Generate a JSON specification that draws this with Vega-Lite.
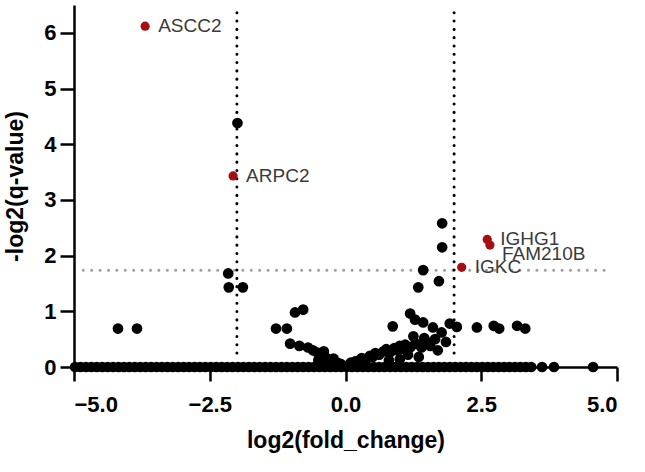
{
  "$schema": "https://vega.github.io/schema/vega-lite/v6.json",
  "width": 543,
  "height": 362,
  "autosize": "none",
  "padding": {"left": 74, "top": 5, "right": 28, "bottom": 105},
  "background": "white",
  "config": {
    "view": {"stroke": null},
    "font": "Liberation Sans",
    "axis": {
      "grid": false,
      "domainColor": "black",
      "domainWidth": 2.5,
      "tickColor": "black",
      "tickWidth": 2.5,
      "tickSize": 14,
      "labelColor": "black",
      "labelFont": "Liberation Sans",
      "labelFontWeight": "bold",
      "labelFontSize": 22,
      "titleFont": "Liberation Sans",
      "titleFontWeight": "bold",
      "titleFontSize": 23,
      "titleColor": "black"
    }
  },
  "datasets": {
    "pts": [
      {"x": -3.69, "y": 6.12, "grp": "sig", "label": "ASCC2"},
      {"x": -2.07, "y": 3.43, "grp": "sig", "label": "ARPC2"},
      {"x": 2.61, "y": 2.29, "grp": "sig", "label": "IGHG1"},
      {"x": 2.66, "y": 2.19, "grp": "sig", "label": "FAM210B"},
      {"x": 2.14, "y": 1.79, "grp": "sig", "label": "IGKC"},
      {"x": -1.99, "y": 4.38, "grp": "ns"},
      {"x": -2.16, "y": 1.68, "grp": "ns"},
      {"x": -2.15, "y": 1.43, "grp": "ns"},
      {"x": -1.89, "y": 1.43, "grp": "ns"},
      {"x": -4.19, "y": 0.69, "grp": "ns"},
      {"x": -3.84, "y": 0.69, "grp": "ns"},
      {"x": 1.78, "y": 2.58, "grp": "ns"},
      {"x": 1.78, "y": 2.15, "grp": "ns"},
      {"x": 1.43, "y": 1.74, "grp": "ns"},
      {"x": 1.34, "y": 1.43, "grp": "ns"},
      {"x": 1.72, "y": 1.54, "grp": "ns"},
      {"x": 2.05, "y": 0.72, "grp": "ns"},
      {"x": 2.42, "y": 0.71, "grp": "ns"},
      {"x": 2.73, "y": 0.74, "grp": "ns"},
      {"x": 2.83, "y": 0.69, "grp": "ns"},
      {"x": 3.16, "y": 0.74, "grp": "ns"},
      {"x": 3.31, "y": 0.69, "grp": "ns"},
      {"x": -1.28, "y": 0.69, "grp": "ns"},
      {"x": -1.08, "y": 0.69, "grp": "ns"},
      {"x": -0.93, "y": 0.98, "grp": "ns"},
      {"x": -0.78, "y": 1.03, "grp": "ns"},
      {"x": -1.02, "y": 0.42, "grp": "ns"},
      {"x": -0.69, "y": 0.35, "grp": "ns"},
      {"x": -0.85, "y": 0.38, "grp": "ns"},
      {"x": -0.6, "y": 0.3, "grp": "ns"},
      {"x": -0.52, "y": 0.26, "grp": "ns"},
      {"x": -0.45, "y": 0.2, "grp": "ns"},
      {"x": -0.4, "y": 0.28, "grp": "ns"},
      {"x": -0.35, "y": 0.16, "grp": "ns"},
      {"x": -0.28, "y": 0.12, "grp": "ns"},
      {"x": -0.22, "y": 0.15, "grp": "ns"},
      {"x": -0.15, "y": 0.08, "grp": "ns"},
      {"x": -0.08, "y": 0.05, "grp": "ns"},
      {"x": -0.5, "y": 0.12, "grp": "ns"},
      {"x": 0.05, "y": 0.03, "grp": "ns"},
      {"x": 0.1, "y": 0.08, "grp": "ns"},
      {"x": 0.18, "y": 0.1, "grp": "ns"},
      {"x": 0.25, "y": 0.12, "grp": "ns"},
      {"x": 0.3, "y": 0.16, "grp": "ns"},
      {"x": 0.38, "y": 0.14, "grp": "ns"},
      {"x": 0.45, "y": 0.2, "grp": "ns"},
      {"x": 0.5, "y": 0.18, "grp": "ns"},
      {"x": 0.55, "y": 0.25, "grp": "ns"},
      {"x": 0.62, "y": 0.22, "grp": "ns"},
      {"x": 0.7, "y": 0.28, "grp": "ns"},
      {"x": 0.75, "y": 0.32, "grp": "ns"},
      {"x": 0.82, "y": 0.26, "grp": "ns"},
      {"x": 0.9, "y": 0.34, "grp": "ns"},
      {"x": 0.95, "y": 0.3, "grp": "ns"},
      {"x": 1.0, "y": 0.38, "grp": "ns"},
      {"x": 1.05, "y": 0.33, "grp": "ns"},
      {"x": 1.1, "y": 0.4, "grp": "ns"},
      {"x": 1.2, "y": 0.36, "grp": "ns"},
      {"x": 1.3, "y": 0.42, "grp": "ns"},
      {"x": 1.4, "y": 0.35, "grp": "ns"},
      {"x": 1.0, "y": 0.14, "grp": "ns"},
      {"x": 1.15, "y": 0.22, "grp": "ns"},
      {"x": 1.35, "y": 0.18, "grp": "ns"},
      {"x": 0.8, "y": 0.12, "grp": "ns"},
      {"x": 0.87, "y": 0.73, "grp": "ns"},
      {"x": 1.19, "y": 0.96, "grp": "ns"},
      {"x": 1.28, "y": 0.85, "grp": "ns"},
      {"x": 1.43, "y": 0.8, "grp": "ns"},
      {"x": 1.61, "y": 0.71, "grp": "ns"},
      {"x": 1.77, "y": 0.62, "grp": "ns"},
      {"x": 1.56, "y": 0.38, "grp": "ns"},
      {"x": 1.52, "y": 0.44, "grp": "ns"},
      {"x": 1.25, "y": 0.55, "grp": "ns"},
      {"x": 1.45, "y": 0.52, "grp": "ns"},
      {"x": 1.65, "y": 0.5, "grp": "ns"},
      {"x": 1.85, "y": 0.45, "grp": "ns"},
      {"x": 1.92, "y": 0.78, "grp": "ns"},
      {"x": 1.7, "y": 0.3, "grp": "ns"},
      {"x": -4.98, "y": 0, "grp": "ns"},
      {"x": -4.88, "y": 0, "grp": "ns"},
      {"x": -4.78, "y": 0, "grp": "ns"},
      {"x": -4.68, "y": 0, "grp": "ns"},
      {"x": -4.58, "y": 0, "grp": "ns"},
      {"x": -4.48, "y": 0, "grp": "ns"},
      {"x": -4.38, "y": 0, "grp": "ns"},
      {"x": -4.28, "y": 0, "grp": "ns"},
      {"x": -4.18, "y": 0, "grp": "ns"},
      {"x": -4.08, "y": 0, "grp": "ns"},
      {"x": -3.98, "y": 0, "grp": "ns"},
      {"x": -3.88, "y": 0, "grp": "ns"},
      {"x": -3.78, "y": 0, "grp": "ns"},
      {"x": -3.68, "y": 0, "grp": "ns"},
      {"x": -3.58, "y": 0, "grp": "ns"},
      {"x": -3.48, "y": 0, "grp": "ns"},
      {"x": -3.38, "y": 0, "grp": "ns"},
      {"x": -3.28, "y": 0, "grp": "ns"},
      {"x": -3.18, "y": 0, "grp": "ns"},
      {"x": -3.08, "y": 0, "grp": "ns"},
      {"x": -2.98, "y": 0, "grp": "ns"},
      {"x": -2.88, "y": 0, "grp": "ns"},
      {"x": -2.78, "y": 0, "grp": "ns"},
      {"x": -2.68, "y": 0, "grp": "ns"},
      {"x": -2.58, "y": 0, "grp": "ns"},
      {"x": -2.48, "y": 0, "grp": "ns"},
      {"x": -2.38, "y": 0, "grp": "ns"},
      {"x": -2.28, "y": 0, "grp": "ns"},
      {"x": -2.18, "y": 0, "grp": "ns"},
      {"x": -2.08, "y": 0, "grp": "ns"},
      {"x": -1.98, "y": 0, "grp": "ns"},
      {"x": -1.88, "y": 0, "grp": "ns"},
      {"x": -1.78, "y": 0, "grp": "ns"},
      {"x": -1.68, "y": 0, "grp": "ns"},
      {"x": -1.58, "y": 0, "grp": "ns"},
      {"x": -1.48, "y": 0, "grp": "ns"},
      {"x": -1.38, "y": 0, "grp": "ns"},
      {"x": -1.28, "y": 0, "grp": "ns"},
      {"x": -1.18, "y": 0, "grp": "ns"},
      {"x": -1.08, "y": 0, "grp": "ns"},
      {"x": -0.98, "y": 0, "grp": "ns"},
      {"x": -0.88, "y": 0, "grp": "ns"},
      {"x": -0.78, "y": 0, "grp": "ns"},
      {"x": -0.68, "y": 0, "grp": "ns"},
      {"x": -0.58, "y": 0, "grp": "ns"},
      {"x": -0.48, "y": 0, "grp": "ns"},
      {"x": -0.38, "y": 0, "grp": "ns"},
      {"x": -0.28, "y": 0, "grp": "ns"},
      {"x": -0.18, "y": 0, "grp": "ns"},
      {"x": -0.08, "y": 0, "grp": "ns"},
      {"x": 0.02, "y": 0, "grp": "ns"},
      {"x": 0.12, "y": 0, "grp": "ns"},
      {"x": 0.22, "y": 0, "grp": "ns"},
      {"x": 0.32, "y": 0, "grp": "ns"},
      {"x": 0.42, "y": 0, "grp": "ns"},
      {"x": 0.52, "y": 0, "grp": "ns"},
      {"x": 0.62, "y": 0, "grp": "ns"},
      {"x": 0.72, "y": 0, "grp": "ns"},
      {"x": 0.82, "y": 0, "grp": "ns"},
      {"x": 0.92, "y": 0, "grp": "ns"},
      {"x": 1.02, "y": 0, "grp": "ns"},
      {"x": 1.12, "y": 0, "grp": "ns"},
      {"x": 1.22, "y": 0, "grp": "ns"},
      {"x": 1.32, "y": 0, "grp": "ns"},
      {"x": 1.42, "y": 0, "grp": "ns"},
      {"x": 1.52, "y": 0, "grp": "ns"},
      {"x": 1.62, "y": 0, "grp": "ns"},
      {"x": 1.72, "y": 0, "grp": "ns"},
      {"x": 1.82, "y": 0, "grp": "ns"},
      {"x": 1.92, "y": 0, "grp": "ns"},
      {"x": 2.02, "y": 0, "grp": "ns"},
      {"x": 2.12, "y": 0, "grp": "ns"},
      {"x": 2.22, "y": 0, "grp": "ns"},
      {"x": 2.32, "y": 0, "grp": "ns"},
      {"x": 2.42, "y": 0, "grp": "ns"},
      {"x": 2.52, "y": 0, "grp": "ns"},
      {"x": 2.62, "y": 0, "grp": "ns"},
      {"x": 2.72, "y": 0, "grp": "ns"},
      {"x": 2.82, "y": 0, "grp": "ns"},
      {"x": 2.92, "y": 0, "grp": "ns"},
      {"x": 3.02, "y": 0, "grp": "ns"},
      {"x": 3.12, "y": 0, "grp": "ns"},
      {"x": 3.22, "y": 0, "grp": "ns"},
      {"x": 3.32, "y": 0, "grp": "ns"},
      {"x": 3.42, "y": 0, "grp": "ns"},
      {"x": 3.62, "y": 0, "grp": "ns"},
      {"x": 3.84, "y": 0, "grp": "ns"},
      {"x": 4.56, "y": 0, "grp": "ns"}
    ],
    "vlines": [{"x": -2, "y": 0.25, "y2": 6.5}, {"x": 2, "y": 0.25, "y2": 6.5}],
    "hline": [{"x": -4.83, "x2": 4.83, "y": 1.737}]
  },
  "layer": [
    {
      "data": {"name": "hline"},
      "mark": {"type": "rule", "color": "#a0a0a0", "strokeWidth": 3, "strokeDash": [0.1, 8.3], "strokeCap": "round"},
      "encoding": {
        "x": {"field": "x", "type": "quantitative", "scale": {"domain": [-5, 5], "nice": false}},
        "x2": {"field": "x2"},
        "y": {"field": "y", "type": "quantitative", "scale": {"domain": [0, 6.5], "nice": false}}
      }
    },
    {
      "data": {"name": "vlines"},
      "mark": {"type": "rule", "color": "black", "strokeWidth": 3, "strokeDash": [0.1, 8.2], "strokeCap": "round"},
      "encoding": {
        "x": {"field": "x", "type": "quantitative"},
        "y": {"field": "y", "type": "quantitative"},
        "y2": {"field": "y2"}
      }
    },
    {
      "data": {"name": "pts"},
      "transform": [{"filter": "datum.grp == 'ns'"}],
      "mark": {"type": "circle", "size": 115, "color": "black", "opacity": 1},
      "encoding": {
        "x": {"field": "x", "type": "quantitative", "scale": {"domain": [-5, 5], "nice": false},
          "axis": {"values": [-5, -2.5, 0, 2.5, 5], "format": ".1f", "title": "log2(fold_change)", "labelPadding": 13, "titlePadding": 14}},
        "y": {"field": "y", "type": "quantitative", "scale": {"domain": [0, 6.5], "nice": false},
          "axis": {"values": [0, 1, 2, 3, 4, 5, 6], "format": "d", "title": "-log2(q-value)", "labelPadding": 4, "titlePadding": 16}}
      }
    },
    {
      "data": {"name": "pts"},
      "transform": [{"filter": "datum.grp == 'sig'"}],
      "mark": {"type": "circle", "size": 85, "color": "#a50f12", "opacity": 1},
      "encoding": {
        "x": {"field": "x", "type": "quantitative"},
        "y": {"field": "y", "type": "quantitative"}
      }
    },
    {
      "data": {"name": "pts"},
      "transform": [{"filter": "datum.grp == 'sig' && datum.label != 'FAM210B'"}],
      "mark": {"type": "text", "align": "left", "baseline": "middle", "dx": 13, "fontSize": 19, "color": "#3a3a3a", "font": "Liberation Sans"},
      "encoding": {
        "x": {"field": "x", "type": "quantitative"},
        "y": {"field": "y", "type": "quantitative"},
        "text": {"field": "label"}
      }
    },
    {
      "data": {"name": "pts"},
      "transform": [{"filter": "datum.label == 'FAM210B'"}],
      "mark": {"type": "text", "align": "left", "baseline": "middle", "dx": 12, "dy": 9, "fontSize": 19, "color": "#3a3a3a", "font": "Liberation Sans"},
      "encoding": {
        "x": {"field": "x", "type": "quantitative"},
        "y": {"field": "y", "type": "quantitative"},
        "text": {"field": "label"}
      }
    }
  ]
}
